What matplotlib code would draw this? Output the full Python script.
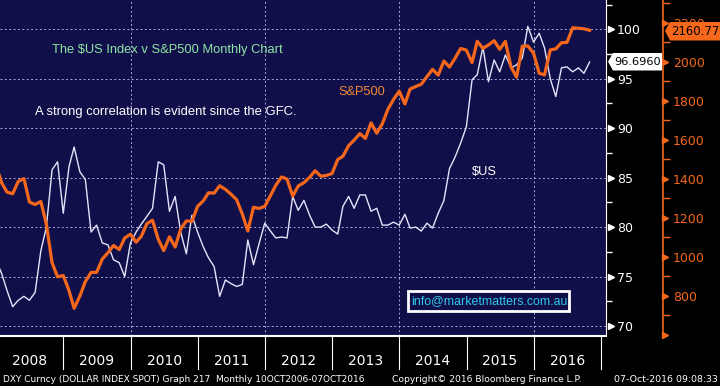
import pandas as pd
import numpy as np
import matplotlib
matplotlib.use('Agg')
import matplotlib.pyplot as plt
from matplotlib.ticker import FixedLocator
from matplotlib.transforms import blended_transform_factory
from matplotlib.patches import Polygon, Rectangle

# monthly closes, Dec 2007 .. Oct 2016 (plotted at month end)
dates = pd.date_range('2007-12-31', '2016-10-31', freq='ME')
dxy = [76.7,
       75.3, 73.6, 71.95, 72.6, 73.0, 72.6, 73.4, 77.6, 80.0, 85.8, 86.6, 81.4,
       86.1, 88.1, 85.6, 84.8, 79.5, 80.2, 78.4, 78.2, 76.7, 76.4, 75.0, 78.4,
       79.5, 80.3, 81.1, 81.9, 86.6, 86.3, 81.6, 83.1, 79.5, 77.3, 81.2, 79.5,
       78.0, 76.9, 76.0, 73.0, 74.65, 74.3, 74.0, 74.2, 78.7, 76.2, 78.3, 80.4,
       79.6, 78.9, 79.0, 78.9, 83.1, 81.7, 82.7, 81.2, 80.0, 80.0, 80.3, 79.7,
       79.3, 82.1, 83.1, 81.9, 83.25, 83.25, 81.6, 81.9, 80.2, 80.2, 80.5, 80.2,
       81.3, 79.9, 80.0, 79.6, 80.4, 79.9, 81.4, 82.7, 85.9, 87.1, 88.5, 90.15,
       94.9, 95.4, 98.2, 94.7, 96.9, 95.7, 97.4, 96.1, 96.4, 97.1, 100.3, 98.7,
       99.6, 98.1, 95.0, 93.2, 96.1, 96.2, 95.7, 96.1, 95.55, 96.696]
spx = [1468.36,
       1378.55, 1330.63, 1322.70, 1385.59, 1400.38, 1280.00, 1267.38, 1282.83, 1166.36, 968.75, 896.24, 903.25,
       825.88, 735.09, 797.87, 872.81, 919.14, 919.32, 987.48, 1020.62, 1057.08, 1036.19, 1095.63, 1115.10,
       1073.87, 1104.49, 1169.43, 1186.69, 1089.41, 1030.71, 1101.60, 1049.33, 1141.20, 1183.26, 1180.55, 1257.64,
       1286.12, 1327.22, 1325.83, 1363.61, 1345.20, 1320.64, 1292.28, 1218.89, 1131.42, 1253.30, 1246.96, 1257.60,
       1312.41, 1365.68, 1408.47, 1397.91, 1310.33, 1362.16, 1379.32, 1406.58, 1440.67, 1412.16, 1416.18, 1426.19,
       1498.11, 1514.68, 1569.19, 1597.57, 1630.74, 1606.28, 1685.73, 1632.97, 1681.55, 1756.54, 1805.81, 1848.36,
       1782.59, 1859.45, 1872.34, 1883.95, 1923.57, 1960.23, 1930.67, 2003.37, 1972.29, 2018.05, 2067.56, 2058.90,
       1994.99, 2104.50, 2067.89, 2085.51, 2107.39, 2063.11, 2103.84, 1972.18, 1920.03, 2079.36, 2080.41, 2043.94,
       1940.24, 1932.23, 2059.74, 2065.30, 2096.95, 2098.86, 2173.60, 2170.95, 2168.27, 2160.77]
years = list(range(2008, 2017))
dxy_ticks = [70, 75, 80, 85, 90, 95, 100]
spx_ticks = [600, 800, 1000, 1200, 1400, 1600, 1800, 2000, 2200]
spx_minor = [700, 900, 1100, 1300, 1500, 1700, 1900, 2100, 2300]
dxy_last = '96.6960'
spx_last = '2160.77'

NAVY = '#110f4a'
ORANGE = '#f5671a'
SANS = ['Liberation Sans', 'DejaVu Sans']
plt.rcParams['font.family'] = ['DejaVu Sans']

W, H = 720, 386
def px(x, y):
    return (x / W, 1 - y / H)

fig = plt.figure(figsize=(7.2, 3.86), dpi=100, facecolor='black')
ax = fig.add_axes([0, 50 / H, 606 / W, 336 / H])
ax.set_facecolor(NAVY)
ax2 = ax.twinx()

ax.plot(dates, dxy, color='#e4e4fa', lw=1.0, zorder=3)
ax2.plot(dates, spx, color=ORANGE, lw=2.3, zorder=3)

ax.set_xlim(pd.Timestamp('2008-01-22'), pd.Timestamp('2017-01-28'))
ax.set_ylim(68.99, 102.96)
ax2.set_ylim(593, 2316)

# grid
ax.set_xticks([pd.Timestamp(f'{y}-01-01') for y in (2010, 2012, 2014, 2016)])
ax.set_xticklabels([])
ax.tick_params(axis='x', length=0)
ax.set_yticks(dxy_ticks)
ax.grid(True, ls=(0, (2, 2.5)), color='#a9a9d6', lw=0.7)

# left (DXY) scale, drawn on the right of the plot
ax.yaxis.tick_right()
ax.yaxis.set_minor_locator(FixedLocator(np.arange(72.5, 103, 5)))
ax.tick_params(axis='y', which='major', length=0, pad=8, labelcolor='white', labelsize=9)
ax.tick_params(axis='y', which='minor', length=4, width=1, color='white')
tr = blended_transform_factory(ax.transAxes, ax.transData)
ax.plot([1.0075] * len(dxy_ticks), dxy_ticks, ls='none', marker='>', ms=5, color='white',
        transform=tr, clip_on=False)

for s in ['top', 'left']:
    ax.spines[s].set_visible(False)
ax.spines['right'].set_color('white')
ax.spines['bottom'].set_color('white')
ax.spines['bottom'].set_linewidth(1.5)

# S&P scale
for s in ['top', 'left', 'bottom']:
    ax2.spines[s].set_visible(False)
ax2.spines['right'].set_position(('axes', 663 / 606))
ax2.spines['right'].set_color(ORANGE)
ax2.spines['right'].set_linewidth(1.2)
ax2.set_yticks(spx_ticks[1:])
ax2.yaxis.set_minor_locator(FixedLocator(spx_minor))
ax2.tick_params(axis='y', which='major', length=0, pad=7, labelcolor=ORANGE, labelsize=9)
ax2.tick_params(axis='y', which='minor', length=5, width=1, color=ORANGE)
tr2 = blended_transform_factory(ax2.transAxes, ax2.transData)
ax2.plot([665 / 606] * len(spx_ticks), spx_ticks, ls='none', marker='>', ms=5, color=ORANGE,
         transform=tr2, clip_on=False)

# last value tags
fig.patches.append(Polygon([px(608, 61.7), px(613, 53), px(662, 53), px(662, 70.5), px(613, 70.5)],
                           closed=True, transform=fig.transFigure, facecolor='white', edgecolor='none'))
tag1 = fig.text(*px(638, 62), dxy_last, color='black', fontsize=9, ha='center', va='center')
fig.patches.append(Polygon([px(665, 31), px(670, 22), px(720, 22), px(720, 40.5), px(670, 40.5)],
                           closed=True, transform=fig.transFigure, facecolor=ORANGE, edgecolor='none',
                           zorder=5))
tag2 = fig.text(*px(695, 31.5), spx_last, color='black', fontsize=9, ha='center', va='center',
                zorder=6)

# year strip
trx = blended_transform_factory(ax.transData, fig.transFigure)
for y in years:
    ax.text(pd.Timestamp(f'{y}-07-02'), 1 - 361 / H, str(y), transform=trx,
            color='white', fontsize=10, ha='center', va='center', clip_on=False)
for y in years[1:] + [2017]:
    ax.plot([pd.Timestamp(f'{y}-01-01')] * 2, [1 - 336 / H, 1 - 369 / H], transform=trx,
            color='white', lw=0.8, clip_on=False)

# annotations
t_title = fig.text(*px(52, 50), 'The $US Index v S&P500 Monthly Chart', color='#8fe6a4', fontsize=9.5,
                   family=SANS, va='center')
t_corr = fig.text(*px(35, 112.5), 'A strong correlation is evident since the GFC.', color='white',
                  fontsize=9.5, family=SANS, va='center')
t_spx = fig.text(*px(338, 92), 'S&P500', color='#f28a36', fontsize=9.5, family=SANS, va='center')
t_us = fig.text(*px(472, 172), '$US', color='white', fontsize=9.5, family=SANS, va='center')
x0, y0 = px(408, 311)
x1, y1 = px(569, 291)
fig.patches.append(Rectangle((x0, y0), x1 - x0, y1 - y0, transform=fig.transFigure,
                             facecolor=NAVY, edgecolor='white', lw=2))
t_mail = fig.text(*px(489, 301.5), 'info@marketmatters.com.au', color='#2fc8ea', fontsize=9.5,
                  family=SANS, ha='center', va='center')

# footer
f1 = fig.text(*px(3, 379), 'DXY Curncy (DOLLAR INDEX SPOT) Graph 217  Monthly 10OCT2006-07OCT2016',
              color='white', fontsize=8, va='center')
f2 = fig.text(*px(392, 379), 'Copyright\u00a9 2016 Bloomberg Finance L.P.', color='white', fontsize=8,
              va='center')
f3 = fig.text(*px(718, 379), '07-Oct-2016 09:08:33', color='white', fontsize=8,
              ha='right', va='center')

# size the texts to the widths they take in the reference
fig.canvas.draw()
rend = fig.canvas.get_renderer()
def fit(t, width):
    t.set_fontsize(t.get_fontsize() * width / t.get_window_extent(rend).width)

fit(f1, 362)
fit(f2, 188)
fit(f3, 104)
fit(tag1, 47)
fit(tag2, 48)
fit(t_title, 231)
fit(t_corr, 262)
fit(t_spx, 47)
fit(t_us, 25)
fit(t_mail, 156)

fig.savefig('out.png', dpi=100, facecolor='black')
